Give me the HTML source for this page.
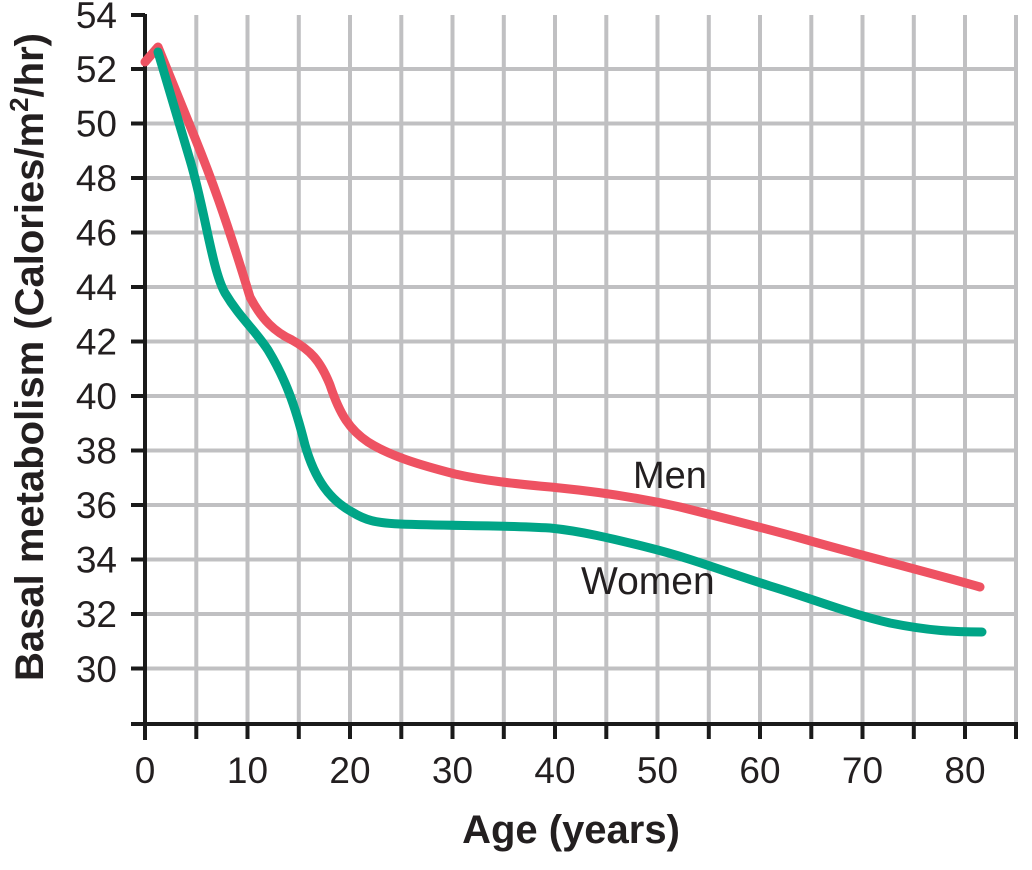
<!DOCTYPE html>
<html><head><meta charset="utf-8"><style>
html,body{margin:0;padding:0;background:#fff;}
svg{display:block;font-family:"Liberation Sans",Arial,sans-serif;}
</style></head><body>
<svg width="1032" height="870" viewBox="0 0 1032 870">
<g stroke="#c0c0c2" stroke-width="4">
<line x1="196.3" y1="15" x2="196.3" y2="723"/><line x1="247.5" y1="15" x2="247.5" y2="723"/><line x1="298.8" y1="15" x2="298.8" y2="723"/><line x1="350" y1="15" x2="350" y2="723"/><line x1="401.3" y1="15" x2="401.3" y2="723"/><line x1="452.5" y1="15" x2="452.5" y2="723"/><line x1="503.8" y1="15" x2="503.8" y2="723"/><line x1="555" y1="15" x2="555" y2="723"/><line x1="606.3" y1="15" x2="606.3" y2="723"/><line x1="657.5" y1="15" x2="657.5" y2="723"/><line x1="708.8" y1="15" x2="708.8" y2="723"/><line x1="760" y1="15" x2="760" y2="723"/><line x1="811.3" y1="15" x2="811.3" y2="723"/><line x1="862.5" y1="15" x2="862.5" y2="723"/><line x1="913.8" y1="15" x2="913.8" y2="723"/><line x1="965" y1="15" x2="965" y2="723"/><line x1="1016" y1="15" x2="1016" y2="723"/>
<line x1="145" y1="69" x2="1018" y2="69"/><line x1="145" y1="123.5" x2="1018" y2="123.5"/><line x1="145" y1="178" x2="1018" y2="178"/><line x1="145" y1="232.5" x2="1018" y2="232.5"/><line x1="145" y1="287" x2="1018" y2="287"/><line x1="145" y1="341.5" x2="1018" y2="341.5"/><line x1="145" y1="396" x2="1018" y2="396"/><line x1="145" y1="450.5" x2="1018" y2="450.5"/><line x1="145" y1="505" x2="1018" y2="505"/><line x1="145" y1="559.5" x2="1018" y2="559.5"/><line x1="145" y1="614" x2="1018" y2="614"/><line x1="145" y1="668.5" x2="1018" y2="668.5"/>
</g>
<g stroke="#1a1a1a" stroke-width="4">
<line x1="145" y1="14" x2="145" y2="740"/><line x1="131" y1="724" x2="1018" y2="724"/>
<line x1="131" y1="15" x2="145" y2="15"/><line x1="131" y1="69" x2="145" y2="69"/><line x1="131" y1="123.5" x2="145" y2="123.5"/><line x1="131" y1="178" x2="145" y2="178"/><line x1="131" y1="232.5" x2="145" y2="232.5"/><line x1="131" y1="287" x2="145" y2="287"/><line x1="131" y1="341.5" x2="145" y2="341.5"/><line x1="131" y1="396" x2="145" y2="396"/><line x1="131" y1="450.5" x2="145" y2="450.5"/><line x1="131" y1="505" x2="145" y2="505"/><line x1="131" y1="559.5" x2="145" y2="559.5"/><line x1="131" y1="614" x2="145" y2="614"/><line x1="131" y1="668.5" x2="145" y2="668.5"/>
<line x1="196.3" y1="724" x2="196.3" y2="739"/><line x1="247.5" y1="724" x2="247.5" y2="739"/><line x1="298.8" y1="724" x2="298.8" y2="739"/><line x1="350" y1="724" x2="350" y2="739"/><line x1="401.3" y1="724" x2="401.3" y2="739"/><line x1="452.5" y1="724" x2="452.5" y2="739"/><line x1="503.8" y1="724" x2="503.8" y2="739"/><line x1="555" y1="724" x2="555" y2="739"/><line x1="606.3" y1="724" x2="606.3" y2="739"/><line x1="657.5" y1="724" x2="657.5" y2="739"/><line x1="708.8" y1="724" x2="708.8" y2="739"/><line x1="760" y1="724" x2="760" y2="739"/><line x1="811.3" y1="724" x2="811.3" y2="739"/><line x1="862.5" y1="724" x2="862.5" y2="739"/><line x1="913.8" y1="724" x2="913.8" y2="739"/><line x1="965" y1="724" x2="965" y2="739"/><line x1="1016" y1="724" x2="1016" y2="739"/>
</g>
<g font-size="37" fill="#231f20" text-anchor="end">
<text x="117" y="28">54</text><text x="117" y="82">52</text><text x="117" y="136.5">50</text><text x="117" y="191">48</text><text x="117" y="245.5">46</text><text x="117" y="300">44</text><text x="117" y="354.5">42</text><text x="117" y="409">40</text><text x="117" y="463.5">38</text><text x="117" y="518">36</text><text x="117" y="572.5">34</text><text x="117" y="627">32</text><text x="117" y="682">30</text>
</g>
<g font-size="37" fill="#231f20" text-anchor="middle">
<text x="145" y="783">0</text><text x="247.5" y="783">10</text><text x="350" y="783">20</text><text x="452.5" y="783">30</text><text x="555" y="783">40</text><text x="657.5" y="783">50</text><text x="760" y="783">60</text><text x="862.5" y="783">70</text><text x="965" y="783">80</text>
</g>
<text x="571" y="843" font-size="40" font-weight="bold" text-anchor="middle" fill="#231f20">Age (years)</text>
<text transform="translate(43,357) rotate(-90)" font-size="40" font-weight="bold" text-anchor="middle" fill="#231f20">Basal metabolism (Calories/m<tspan font-size="26" dy="-15">2</tspan><tspan dy="15">/hr)</tspan></text>
<path fill="none" stroke="#ee5262" stroke-width="9" stroke-linejoin="round" stroke-linecap="round" d="M145,62 L158,47 L195,138 C210,175 225,215 250,297 C262,320 275,332 292,340 C310,350 320,360 330,385 C340,415 350,430 368,442 C390,456 420,465 455,474 C490,482 530,485 560,488 C600,492 640,498 680,507 C720,517 760,527 800,538 C860,555 920,570 980,587"/>
<path fill="none" stroke="#00a587" stroke-width="9" stroke-linejoin="round" stroke-linecap="round" d="M158,52 L190,160 C205,210 212,270 225,293 C240,318 255,330 268,350 C285,378 295,405 305,445 C315,480 330,500 352,512 C365,520 375,523 400,524 C450,526 500,525 550,528 C580,531 610,538 650,548 C690,558 720,570 770,586 C810,598 850,614 890,623 C930,631 955,632 982,632"/>
<text x="633" y="488" font-size="38" fill="#231f20">Men</text>
<text x="581" y="594" font-size="39" fill="#231f20">Women</text>
</svg>
</body></html>
